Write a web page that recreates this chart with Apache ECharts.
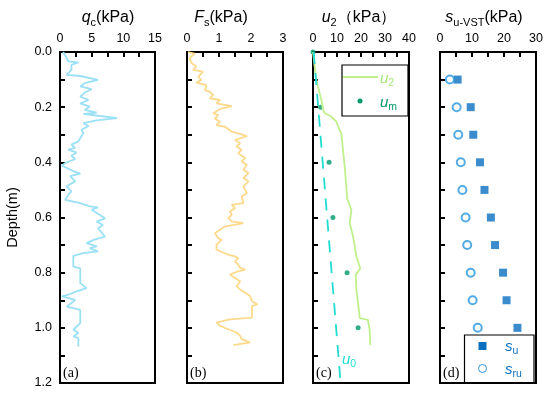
<!DOCTYPE html>
<html><head><meta charset="utf-8">
<script src="https://cdn.jsdelivr.net/npm/echarts@6/dist/echarts.min.js"></script>
<style>html,body{margin:0;padding:0;background:#fff}#c{width:550px;height:398px}</style>
</head><body><div id="c"></div><script>
// ---- data ----
var qcDepth = [0,0.022,0.034,0.038,0.047,0.065,0.083,0.087,0.101,0.113,0.125,0.135,0.147,0.162,0.174,0.186,0.198,0.21,0.22,0.224,0.232,0.24,0.248,0.258,0.268,0.282,0.294,0.312,0.324,0.336,0.348,0.354,0.364,0.376,0.388,0.403,0.412,0.42,0.432,0.441,0.45,0.469,0.487,0.505,0.518,0.536,0.548,0.56,0.563,0.572,0.603,0.615,0.627,0.639,0.669,0.681,0.693,0.705,0.711,0.723,0.729,0.739,0.778,0.784,0.838,0.856,0.868,0.88,0.886,0.899,0.923,0.935,0.983,1.007,1.019,1.031,1.037,1.068];
var qcValues = [0.5,1.05,1.3,2.9,1.8,1.8,1.05,3.2,6.0,3.9,3.2,5.0,3.9,3.2,4.5,3.2,4.7,3.9,5.8,3.7,6.3,9.0,5.8,3.7,4.5,3.4,3.7,3.2,2.9,1.8,2.4,1.3,2.6,1.8,2.4,0.8,0.3,1.05,2.1,3.2,1.6,2.4,1.05,1.8,1.3,0.8,3.2,4.7,6.0,5.0,7.1,5.8,6.8,6.0,7.1,5.3,4.2,5.8,4.7,6.0,3.7,2.1,2.1,3.2,3.2,4.2,2.6,1.3,0.3,2.4,1.05,3.2,3.2,2.1,2.9,2.1,2.9,2.9];
var fsDepth = [0,0.006,0.022,0.04,0.053,0.065,0.071,0.09,0.101,0.111,0.12,0.138,0.144,0.156,0.168,0.174,0.186,0.196,0.205,0.21,0.223,0.229,0.241,0.253,0.265,0.271,0.289,0.295,0.305,0.319,0.331,0.343,0.355,0.367,0.385,0.397,0.409,0.427,0.439,0.457,0.469,0.487,0.5,0.512,0.524,0.548,0.554,0.566,0.578,0.59,0.602,0.614,0.62,0.633,0.657,0.675,0.681,0.699,0.717,0.735,0.741,0.747,0.759,0.771,0.783,0.789,0.795,0.807,0.819,0.831,0.849,0.861,0.885,0.903,0.915,0.921,0.963,0.969,0.981,0.993,1.005,1.017,1.029,1.041,1.053,1.063];
var fsValues = [0.03,0.24,0.08,0.14,0.29,0.19,0.5,0.35,0.45,0.29,0.61,0.56,0.71,0.82,0.71,1.03,0.92,1.4,1.08,0.98,0.82,0.98,0.87,1.03,0.92,1.19,1.4,1.6,1.87,1.5,1.66,1.55,1.71,1.6,1.82,1.71,1.87,1.76,1.92,1.76,1.92,1.76,1.82,1.87,1.71,1.76,1.4,1.5,1.34,1.4,1.29,1.4,1.76,1.18,0.87,0.98,1.08,0.92,0.92,1.29,1.5,1.6,1.5,1.6,1.66,1.82,1.6,1.34,1.5,1.66,1.55,1.66,1.97,2.03,2.2,2.03,2.03,1.34,0.92,1.03,1.29,1.55,1.66,1.71,1.97,1.45];
var u2Depth = [0,0.053,0.101,0.15,0.174,0.21,0.222,0.234,0.252,0.283,0.295,0.355,0.415,0.488,0.53,0.572,0.621,0.669,0.742,0.784,0.808,0.862,0.965,0.971,1.007,1.062];
var u2Values = [0,0.7,1.4,2.8,3.5,4.2,4.9,7.6,9.7,11.1,11.8,12.5,13.2,13.9,14.2,16.0,15.3,16.7,18.1,19.7,17.8,18.1,19.5,22.9,23.6,23.9];
var umDepth = [0,0.2,0.4,0.6,0.8,1.0];
var umValues = [0,3.2,6.7,8.3,14.2,18.8];
var u0Depth = [0,1.2];
var u0Values = [0.3,11.5];
var vstDepth = [0.1,0.2,0.3,0.4,0.5,0.6,0.7,0.8,0.9,1.0];
var suValues = [5.5,9.6,10.4,12.5,13.9,15.9,17.2,19.7,20.8,24.2];
var sruValues = [3.1,5.2,5.7,6.5,7.0,8.0,8.5,9.6,10.2,11.8];

function zip(d, v){ return d.map(function(y,i){ return [v[i], y]; }); }

var FONT = 'Liberation Sans, Arial, sans-serif';
var grids = [
  {left:60, top:52, width:95, height:331},
  {left:187, top:52, width:96, height:331},
  {left:313, top:52, width:96, height:331},
  {left:440, top:52, width:96, height:331}
].map(function(g){ return Object.assign({show:true, borderColor:'#000', borderWidth:2, backgroundColor:'transparent'}, g); });

var tickStyle = {color:'#000', width:2};
function xAx(gi, max, interval){
  return {type:'value', gridIndex:gi, position:'top', min:0, max:max, interval:interval,
    axisLine:{show:true, onZero:false, lineStyle:tickStyle},
    axisTick:{show:true, inside:true, length:5, lineStyle:tickStyle},
    minorTick:{show:true, splitNumber:2, length:5, lineStyle:tickStyle},
    splitLine:{show:false}, minorSplitLine:{show:false},
    axisLabel:{color:'#000', fontSize:12.5, margin:7, fontFamily:FONT}};
}
function yAx(gi, showLabel){
  return {type:'value', gridIndex:gi, inverse:true, min:0, max:1.2, interval:0.2,
    axisLine:{show:true, onZero:false, lineStyle:tickStyle},
    axisTick:{show:true, inside:true, length:5, lineStyle:tickStyle},
    minorTick:{show:true, splitNumber:2, length:5, lineStyle:tickStyle},
    splitLine:{show:false},
    axisLabel:{show:showLabel, color:'#000', fontSize:12.5, margin:8, fontFamily:FONT,
      formatter:function(v){ return (+v).toFixed(1); }},
    name: showLabel ? 'Depth(m)' : '', nameLocation:'middle', nameGap:40, nameRotate:90,
    nameTextStyle:{color:'#000', fontSize:14.5, fontFamily:FONT}};
}

var rich = {
  i:{fontStyle:'italic', fontSize:16, fontFamily:FONT, fill:'#000', lineHeight:20},
  n:{fontSize:16, fontFamily:FONT, fill:'#000', lineHeight:20},
  s:{fontSize:11, fontFamily:FONT, fill:'#000', lineHeight:12, verticalAlign:'bottom'}
};
function title(x, txt){
  return {type:'text', x:x, y:18, style:{text:txt, rich:rich, align:'center', verticalAlign:'middle'}};
}
function panelLbl(x, t){
  return {type:'text', x:x, y:373, style:{text:t, font:'14px "Liberation Serif", serif', fill:'#000', verticalAlign:'middle'}};
}
function legTxt(x, y, a, b, col){
  return {type:'text', x:x, y:y, z:11, style:{text:'{i|'+a+'}{s|'+b+'}', verticalAlign:'middle', fill:col,
    rich:{i:{fontStyle:'italic', fontSize:15, fontFamily:FONT, fill:col, lineHeight:20},
          s:{fontSize:10.5, fontFamily:FONT, fill:col, lineHeight:12, verticalAlign:'bottom'}}}};
}

var graphics = [
  title(108, '{i|q}{s|c}{n|(kPa)}'),
  title(221, '{i|F}{s|s}{n|(kPa)}'),
  title(359, '{i|u}{s|2}{n|（kPa）}'),
  title(484, '{i|s}{s|u-VST}{n|(kPa)}'),
  panelLbl(63, '(a)'), panelLbl(190, '(b)'), panelLbl(316, '(c)'), panelLbl(443, '(d)'),
  legTxt(342, 360, 'u', '0', '#22dcd2'),
  // legend (c)
  {type:'rect', shape:{x:342, y:65, width:66, height:51}, style:{fill:'#fff', stroke:'#000', lineWidth:1.2}, z:10},
  {type:'line', shape:{x1:343, y1:77, x2:378, y2:77}, style:{stroke:'#bff08c', lineWidth:1.8}, z:11},
  legTxt(380, 79, 'u', '2', '#a8e87a'),
  {type:'circle', shape:{cx:360, cy:101, r:2.5}, style:{fill:'#00996b'}, z:11},
  legTxt(380, 103, 'u', 'm', '#00996b'),
  // legend (d)
  {type:'rect', shape:{x:464.5, y:335, width:69.5, height:47.5}, style:{fill:'#fff', stroke:'#000', lineWidth:1.2}, z:10},
  {type:'rect', shape:{x:478.5, y:342, width:8, height:8}, style:{fill:'#0a6fbf'}, z:11},
  legTxt(505, 347, 's', 'u', '#0a6fbf'),
  {type:'circle', shape:{cx:482.5, cy:368.5, r:4}, style:{fill:'#fff', stroke:'#2896de', lineWidth:1}, z:11},
  legTxt(505, 370, 's', 'ru', '#0a6fbf')
];

var option = {
  animation:false,
  backgroundColor:'#fff',
  grid: grids,
  xAxis: [xAx(0,15,5), xAx(1,3,1), xAx(2,40,10), xAx(3,30,10)],
  yAxis: [yAx(0,true), yAx(1,false), yAx(2,false), yAx(3,false)],
  series: [
    {type:'line', xAxisIndex:0, yAxisIndex:0, data:zip(qcDepth,qcValues), showSymbol:false,
      lineStyle:{color:'#9be0f5', width:1.8}},
    {type:'line', xAxisIndex:1, yAxisIndex:1, data:zip(fsDepth,fsValues), showSymbol:false,
      lineStyle:{color:'#fdd98c', width:1.8}},
    {type:'line', xAxisIndex:2, yAxisIndex:2, data:zip(u2Depth,u2Values), showSymbol:false,
      lineStyle:{color:'#bff08c', width:1.8}},
    {type:'line', xAxisIndex:2, yAxisIndex:2, data:zip(u0Depth,u0Values), showSymbol:false,
      lineStyle:{color:'#22dcd2', width:1.8, type:[12,9]}},
    {type:'scatter', xAxisIndex:2, yAxisIndex:2, data:zip(umDepth,umValues), symbolSize:5,
      itemStyle:{color:'#00996b'}},
    {type:'scatter', xAxisIndex:3, yAxisIndex:3, data:zip(vstDepth,suValues), symbol:'rect', symbolSize:8,
      itemStyle:{color:'#0a6fbf'}},
    {type:'scatter', xAxisIndex:3, yAxisIndex:3, data:zip(vstDepth,sruValues), symbol:'emptyCircle', symbolSize:8,
      itemStyle:{color:'#2896de', borderWidth:1}}
  ],
  graphic: graphics
};
var chart = echarts.init(document.getElementById('c'), null, {renderer:'canvas'});
chart.setOption(option);
</script></body></html>
